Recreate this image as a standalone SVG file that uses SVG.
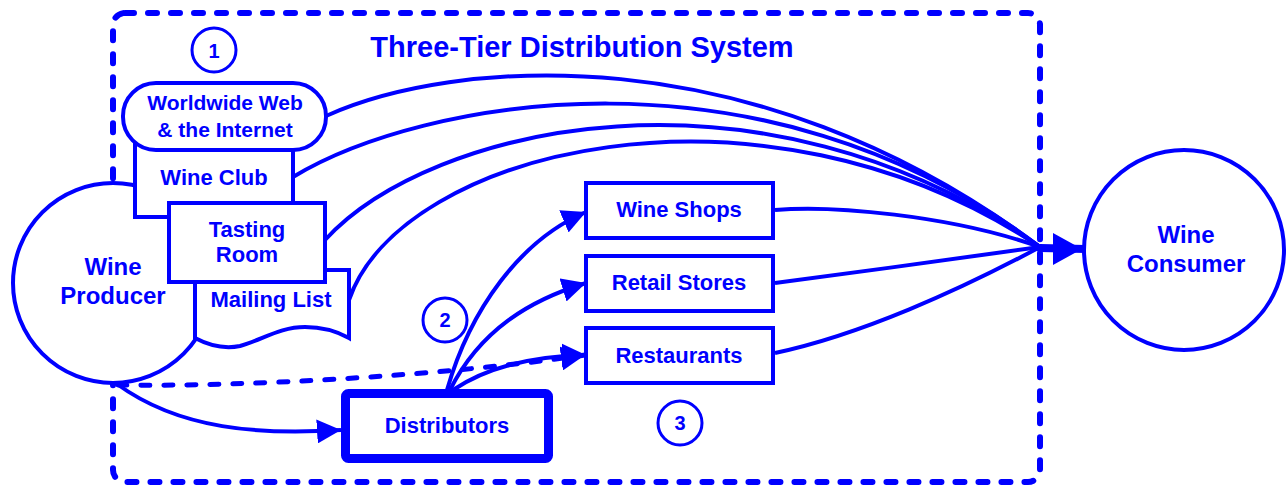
<svg xmlns="http://www.w3.org/2000/svg" width="1287" height="486" viewBox="0 0 1287 486">
<style>
text{font-family:"Liberation Sans",Arial,sans-serif;font-weight:bold;fill:#0000ff;text-anchor:middle}
.n{fill:#fff;stroke:#0000ff;stroke-width:4}
.c{fill:none;stroke:#0000ff;stroke-width:4}
.d{fill:none;stroke:#0000ff;stroke-width:5;stroke-dasharray:9 14;stroke-linecap:round}
.t{font-size:22px}
.big{font-size:24px}
.num{font-size:20px}
</style>
<defs>
<marker id="ah" markerUnits="userSpaceOnUse" markerWidth="26" markerHeight="24" refX="24" refY="12" orient="auto">
<path d="M0,0 L24,12 L0,24 Z" fill="#0000ff"/>
</marker>
</defs>
<rect id="border" x="113" y="13" width="927" height="469" rx="12" fill="none" stroke="#0000ff" stroke-width="6" stroke-dasharray="9 14" stroke-linecap="round"/>
<text x="582" y="57" style="font-size:29px">Three-Tier Distribution System</text>
<g id="connectors">
<path class="c" d="M326 116 C450 60,750 30,1040 247"/>
<path class="c" d="M293 177 C420 100,760 35,1040 247"/>
<path class="c" d="M325 240 C430 125,760 50,1040 247"/>
<path class="c" d="M349 300 C400 150,760 60,1040 247"/>
<path class="c" d="M775 210 C830 205,950 215,1040 247"/>
<path class="c" d="M775 283 C860 272,960 258,1040 247"/>
<path class="c" d="M775 353 C860 335,960 290,1040 247"/>
<path class="c" d="M117 384 C180 430,260 435,341 430" marker-end="url(#ah)"/>
<path class="d" d="M118 385 C250 387,450 375,585 355" marker-end="url(#ah)"/>
<path class="c" d="M447 390 C470 310,520 240,586 212" marker-end="url(#ah)"/>
<path class="c" d="M450 390 C480 330,530 300,586 283" marker-end="url(#ah)"/>
<path class="c" d="M453 390 C490 365,540 356,586 355" marker-end="url(#ah)"/>
<line x1="1040" y1="248" x2="1086" y2="249" stroke="#0000ff" stroke-width="8" stroke-linecap="round"/>
<polygon points="1053,233 1082,249 1053,265" fill="#0000ff"/>
</g>
<g id="producer">
<circle class="n" cx="113" cy="283" r="100"/>
<text class="big" x="113" y="275">Wine</text>
<text class="big" x="113" y="304">Producer</text>
</g>
<g id="mailing">
<path class="n" d="M195 270 L349 270 L349 338 C340 333,325 327,305 327 C280 327,262 340,240 346 C225 349,210 346,195 338 Z"/>
<text class="t" x="271" y="307">Mailing List</text>
</g>
<g id="wineclub">
<rect class="n" x="135" y="130" width="158" height="87"/>
<text class="t" x="214" y="185">Wine Club</text>
</g>
<g id="web">
<rect class="n" x="123" y="83" width="203" height="67" rx="33" ry="33"/>
<text class="t" x="225" y="110" style="font-size:21px">Worldwide Web</text>
<text class="t" x="225" y="137" style="font-size:21px">&amp; the Internet</text>
</g>
<g id="tasting">
<rect class="n" x="169" y="203" width="156" height="79"/>
<text class="t" x="247" y="237">Tasting</text>
<text class="t" x="247" y="262">Room</text>
</g>
<g id="shops">
<rect class="n" x="586" y="183" width="187" height="55"/>
<text class="t" x="679" y="217">Wine Shops</text>
</g>
<g id="retail">
<rect class="n" x="586" y="256" width="187" height="55"/>
<text class="t" x="679" y="290">Retail Stores</text>
</g>
<g id="restaurants">
<rect class="n" x="586" y="328" width="187" height="55"/>
<text class="t" x="679" y="363">Restaurants</text>
</g>
<g id="distributors">
<rect x="345.5" y="393.5" width="203" height="65" rx="3" fill="#fff" stroke="#0000ff" stroke-width="9"/>
<text class="t" x="447" y="433">Distributors</text>
</g>
<g id="consumer">
<circle class="n" cx="1184" cy="250" r="100"/>
<text class="big" x="1186" y="243">Wine</text>
<text class="big" x="1186" y="272">Consumer</text>
</g>
<g id="n1"><circle cx="214" cy="50" r="22" fill="none" stroke="#0000ff" stroke-width="3"/><text class="num" x="214" y="58">1</text></g>
<g id="n2"><circle cx="445" cy="320" r="22" fill="none" stroke="#0000ff" stroke-width="3"/><text class="num" x="445" y="327">2</text></g>
<g id="n3"><circle cx="680" cy="423" r="22" fill="none" stroke="#0000ff" stroke-width="3"/><text class="num" x="680" y="430">3</text></g>
</svg>
